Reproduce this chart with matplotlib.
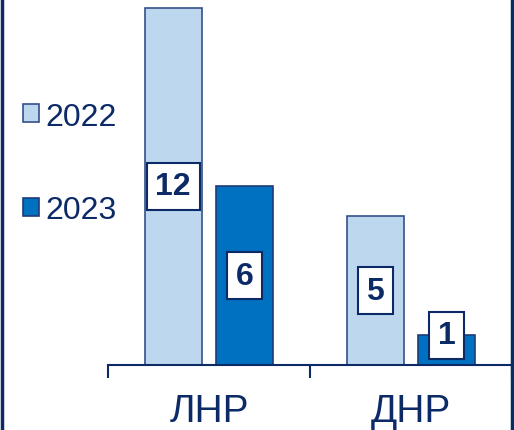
import numpy as np
import matplotlib.pyplot as plt
from matplotlib.lines import Line2D

plt.rcParams['font.family'] = ['Liberation Sans', 'DejaVu Sans']

regions = ["ЛНР", "ДНР"]
years = ["2022", "2023"]
vals_2022 = [12, 5]
vals_2023 = [6, 1]

navy = "#0C2A66"
light = "#BDD7EE"
dark = "#0070C0"

fig = plt.figure(figsize=(5.14, 4.31), dpi=100)
ax = fig.add_axes([108 / 514, 65 / 431, 404 / 514, 366 / 431])

x = np.arange(len(regions))
w = 0.281
off = 0.177
b1 = ax.bar(x - off, vals_2022, w, color=light, edgecolor="#34508A", linewidth=1.2, label=years[0])
b2 = ax.bar(x + off, vals_2023, w, color=dark, edgecolor="#1F3C78", linewidth=1.2, label=years[1])

for bars, vals in [(b1, vals_2022), (b2, vals_2023)]:
    for rect, v in zip(bars, vals):
        ax.text(rect.get_x() + rect.get_width() / 2, max(v / 2, 1.0), str(v),
                ha="center", va="center", fontsize=23, fontweight="bold", color=navy,
                bbox=dict(boxstyle="square,pad=0.27", facecolor="white", edgecolor=navy, linewidth=1.5))

ax.set_xlim(-0.5, 1.5)
ax.set_ylim(0, 12.3)
for s in ["top", "right", "left"]:
    ax.spines[s].set_visible(False)
ax.spines["bottom"].set_color(navy)
ax.spines["bottom"].set_linewidth(1.5)
ax.set_yticks([])
ax.set_xticks(x)
ax.set_xticklabels(regions, fontsize=28, color=navy)
ax.tick_params(axis="x", which="major", length=0, pad=20)
ax.set_xticks([-0.5, 0.5, 1.5], minor=True)
ax.tick_params(axis="x", which="minor", length=9, width=1.5, color=navy, direction="out")

leg = fig.legend(handles=[b1, b2], labels=years, loc="upper left",
                 bbox_to_anchor=(0.044, 0.762), frameon=False, fontsize=23,
                 handlelength=0.5, handleheight=0.5, handletextpad=0.2,
                 labelspacing=2.0, borderpad=0, borderaxespad=0)
for t in leg.get_texts():
    t.set_color(navy)

fig.add_artist(Line2D([0.003, 0.003], [0, 1], color=navy, linewidth=2.5, transform=fig.transFigure))
fig.add_artist(Line2D([0.997, 0.997], [0, 1], color=navy, linewidth=2.5, transform=fig.transFigure))

fig.savefig("out.png", dpi=100)
